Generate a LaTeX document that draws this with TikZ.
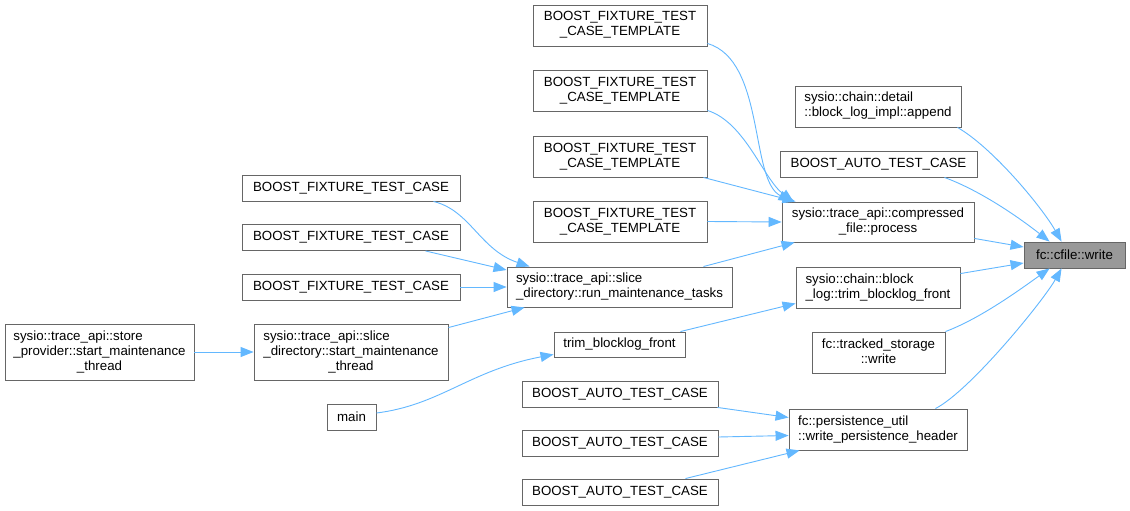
\documentclass[tikz,border=0pt]{standalone}
\usepackage{fontspec}
\setmainfont{Liberation Sans}
\usepackage{xcolor}
\usepackage{tikz}
\usetikzlibrary{arrows.meta,calc}

\definecolor{edgeblue}{HTML}{63B8FF}
\definecolor{boxline}{HTML}{666666}
\definecolor{rootfill}{HTML}{999999}

\newcommand{\twoline}[2]{\begin{tabular}{@{}l@{}}#1\\\multicolumn{1}{@{}c@{}}{#2}\end{tabular}}
\newcommand{\threeline}[3]{\begin{tabular}{@{}l@{}}#1\\#2\\\multicolumn{1}{@{}c@{}}{#3}\end{tabular}}

\begin{document}
\begin{tikzpicture}[
  x=1pt, y=-1pt,
  font=\fontsize{13.3}{15}\selectfont,
  fn/.style={draw=boxline, fill=white, line width=0.9pt, inner sep=0pt},
  root/.style={fn, fill=rootfill},
  call/.style={-{Triangle[length=13pt, width=10pt]}, draw=edgeblue, line width=0.9pt},
]
  \useasboundingbox[fill=white] (0,0) rectangle (1130,511);

  \node[root, minimum width=101pt, minimum height=26pt] (cfile) at (1074.5,255) {fc::cfile::write};
  \node[fn, minimum width=166pt, minimum height=41pt] (append) at (878,106.5)
    {\twoline{sysio::chain::detail}{::block\_log\_impl::append}};
  \node[fn, minimum width=197pt, minimum height=26pt] (batcR) at (878.5,164) {BOOST\_AUTO\_TEST\_CASE};
  \node[fn, minimum width=192pt, minimum height=40pt] (compressed) at (878,222)
    {\twoline{sysio::trace\_api::compressed}{\_file::process}};
  \node[fn, minimum width=164pt, minimum height=41pt] (blocktrim) at (878,287.5)
    {\twoline{sysio::chain::block}{\_log::trim\_blocklog\_front}};
  \node[fn, minimum width=133pt, minimum height=41pt] (tracked) at (878.5,352.5)
    {\twoline{fc::tracked\_storage}{::write}};
  \node[fn, minimum width=178pt, minimum height=41pt] (persist) at (878,429.5)
    {\twoline{fc::persistence\_util}{::write\_persistence\_header}};

  \foreach \i/\y in {1/25.5, 2/90.5, 3/156.5, 4/221.5} {
    \node[fn, minimum width=174pt, minimum height=41pt] (ftct\i) at (620,\y)
      {\twoline{BOOST\_FIXTURE\_TEST}{\_CASE\_TEMPLATE}};
  }
  \node[fn, minimum width=225pt, minimum height=40pt] (runmaint) at (619.5,287)
    {\twoline{sysio::trace\_api::slice}{\_directory::run\_maintenance\_tasks}};
  \node[fn, minimum width=131pt, minimum height=25pt] (trimfront) at (619.5,344.5) {trim\_blocklog\_front};
  \foreach \i/\y in {1/394, 2/443, 3/492} {
    \node[fn, minimum width=196pt, minimum height=26pt] (batc\i) at (620,\y) {BOOST\_AUTO\_TEST\_CASE};
  }

  \foreach \i/\y in {1/188, 2/237.5, 3/287} {
    \node[fn, minimum width=218pt, minimum height=26pt] (bftc\i) at (351,\y) {BOOST\_FIXTURE\_TEST\_CASE};
  }
  \node[fn, minimum width=194pt, minimum height=56pt] (slicestart) at (351,352)
    {\threeline{sysio::trace\_api::slice}{\_directory::start\_maintenance}{\_thread}};
  \node[fn, minimum width=49pt, minimum height=26pt] (main) at (351.5,417) {main};
  \node[fn, minimum width=189pt, minimum height=56pt] (storeprov) at (99.5,352)
    {\threeline{sysio::trace\_api::store}{\_provider::start\_maintenance}{\_thread}};

  % into fc::cfile::write
  \draw[call] ($(append.south east)+(-4,0)$) .. controls +(35,20) and +(-20,-35) .. ($(cfile.north west)+(38,0)$);
  \draw[call] ($(batcR.south east)+(-33,0)$) .. controls +(38,14) and +(-28,-22) .. ($(cfile.north west)+(26,0)$);
  \draw[call] ($(compressed.south east)+(0,-4)$) -- ($(cfile.west)+(0,-8)$);
  \draw[call] ($(blocktrim.north east)+(0,7)$) -- ($(cfile.west)+(0,8)$);
  \draw[call] (tracked.north east) .. controls +(35,-13) and +(-28,20) .. ($(cfile.south west)+(26,0)$);
  \draw[call] ($(persist.north east)+(-32,0)$) .. controls +(35,-18) and +(-18,32) .. ($(cfile.south west)+(38,0)$);

  % into compressed_file::process
  \draw[call] ($(ftct1.south east)+(0,-3)$) .. controls +(58,17) and +(-42,-22) .. ($(compressed.north west)+(10,0)$);
  \draw[call] ($(ftct2.south east)+(0,-1)$) .. controls +(38,12) and +(-30,-22) .. ($(compressed.north west)+(12,0)$);
  \draw[call] ($(ftct3.south east)+(-4,0)$) -- ($(compressed.north west)+(14,0)$);
  \draw[call] (ftct4.east) -- (compressed.west);
  \draw[call] ($(runmaint.north east)+(-29,0)$) -- ($(compressed.south west)+(13,0)$);

  % into run_maintenance_tasks
  \draw[call] ($(bftc1.south east)+(-27,0)$) .. controls +(37,9) and +(-50,-17) .. ($(runmaint.north west)+(23,0)$);
  \draw[call] ($(bftc2.south east)+(-35,0)$) -- ($(runmaint.west)+(0,-17)$);
  \draw[call] (bftc3.east) -- (runmaint.west);
  \draw[call] ($(slicestart.north east)+(0,4)$) -- ($(runmaint.south west)+(18,0)$);
  \draw[call] (storeprov.east) -- (slicestart.west);

  % trim_blocklog_front
  \draw[call] ($(main.east)+(0,-4)$) .. controls +(64,-8) and +(-84,16) .. ($(trimfront.south west)+(0,-3)$);
  \draw[call] ($(trimfront.north east)+(-5,0)$) -- ($(blocktrim.south west)+(0,-5)$);

  % into write_persistence_header
  \draw[call] ($(batc1.south east)+(-1,0)$) -- ($(persist.west)+(0,-12)$);
  \draw[call] ($(batc2.east)+(0,-6)$) -- ($(persist.west)+(0,6)$);
  \draw[call] ($(batc3.north east)+(-33,0)$) -- ($(persist.south west)+(11,0)$);
\end{tikzpicture}
\end{document}
